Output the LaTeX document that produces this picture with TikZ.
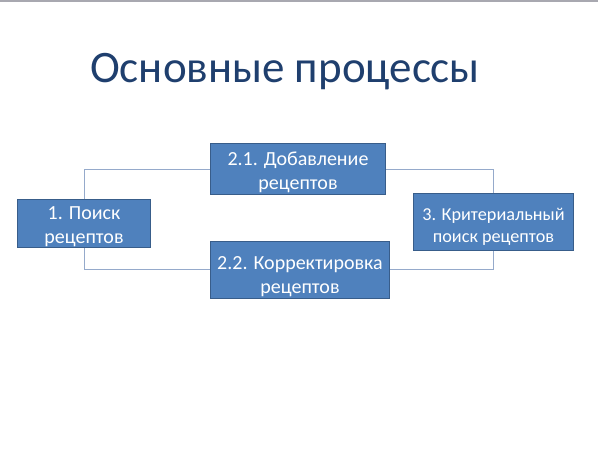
\documentclass[tikz,border=0pt]{standalone}
\usepackage{fontspec}
\setmainfont{Carlito}
\definecolor{boxfill}{HTML}{4F81BD}
\definecolor{boxline}{HTML}{385D8A}
\definecolor{conn}{HTML}{95AACB}
\definecolor{titlec}{HTML}{1F3F6E}
\definecolor{topline}{HTML}{A8A8B0}
\begin{document}
\begin{tikzpicture}[x=1pt,y=-1pt,
  procbox/.style={draw=boxline,line width=1pt,fill=boxfill,text=white,font=\fontsize{20}{24}\selectfont,align=center,inner sep=0pt,anchor=north west},
  conline/.style={draw=conn,line width=0.9pt}]
\useasboundingbox (0,0) rectangle (598,452);
\fill[white] (0,0) rectangle (598,452);
\fill[topline] (0,0) rectangle (598,2.5);
\node[font=\fontsize{45}{54}\selectfont,text=titlec,anchor=center] (title) at (285,72) {Основные процессы};
\node[procbox,minimum width=133pt,minimum height=48pt] (b1) at (17,199) {\rule{0pt}{20pt}1. Поиск\\рецептов};
\node[procbox,minimum width=175pt,minimum height=51pt] (b21) at (210,143) {\rule{0pt}{20pt}2.1. Добавление\\рецептов};
\node[procbox,minimum width=179pt,minimum height=57pt] (b22) at (210,241) {\rule{0pt}{26pt}2.2. Корректировка\\рецептов};
\node[procbox,minimum width=160pt,minimum height=57pt,font=\fontsize{18.2}{22}\selectfont] (b3) at (413,193) {\rule{0pt}{21pt}3. Критериальный\\поиск рецептов};
\coordinate (c1) at (84,169);
\coordinate (c2) at (84,269);
\coordinate (c3) at (493,169);
\coordinate (c4) at (493,269);
\draw[conline] (b1.north -| c1) -- (c1) -- (b21.west |- c1);
\draw[conline] (b1.south -| c2) -- (c2) -- (b22.west |- c2);
\draw[conline] (b21.east |- c3) -- (c3) -- (b3.north -| c3);
\draw[conline] (b22.east |- c4) -- (c4) -- (b3.south -| c4);
\end{tikzpicture}
\end{document}
